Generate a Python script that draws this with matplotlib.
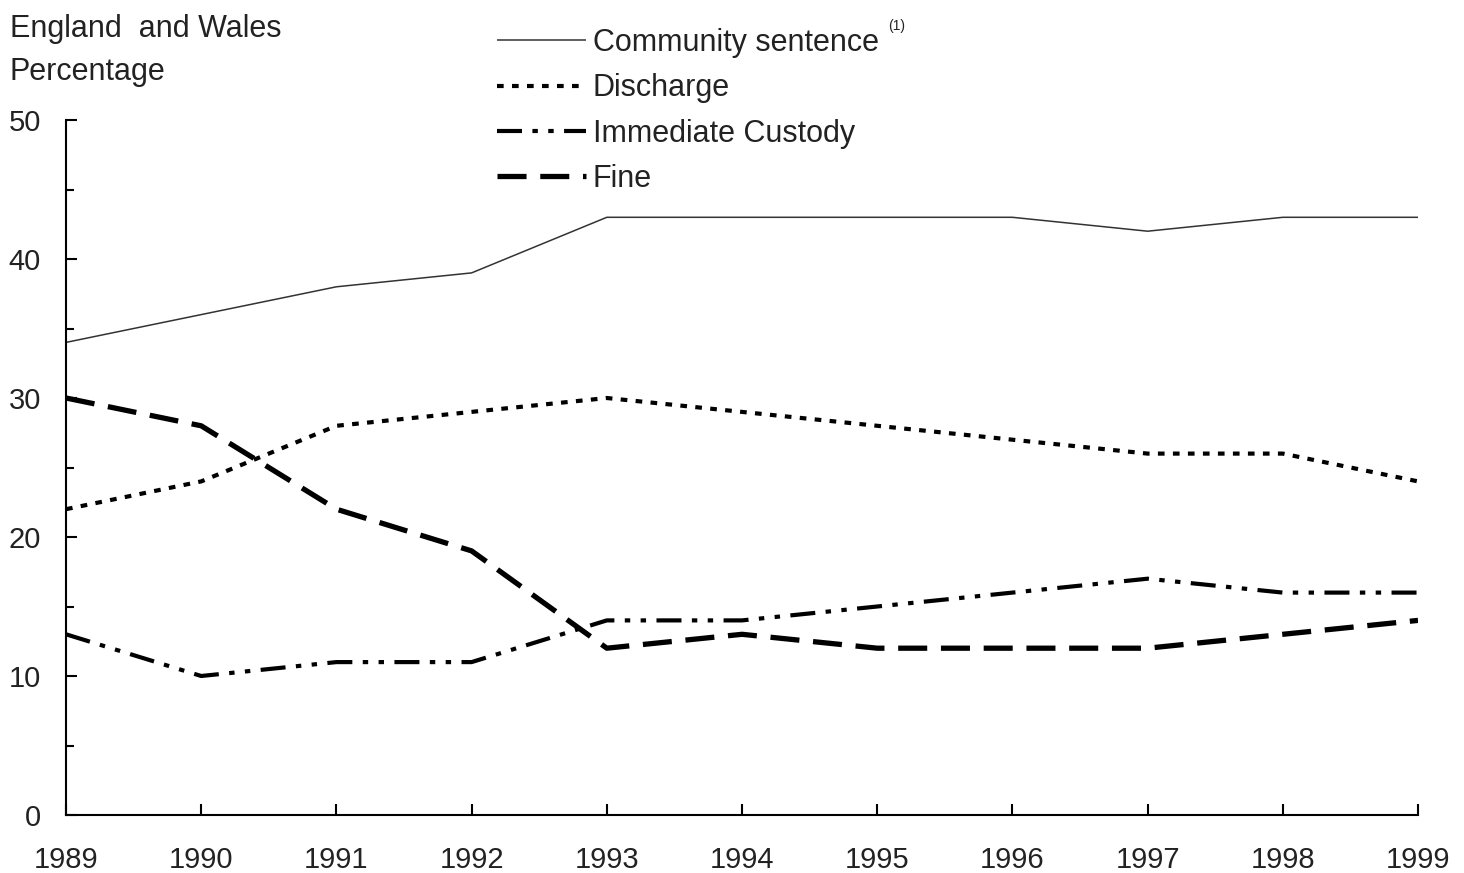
import matplotlib
matplotlib.use("Agg")
import matplotlib.pyplot as plt

plt.rcParams['font.family'] = ['Liberation Sans', 'DejaVu Sans']

years = [1989, 1990, 1991, 1992, 1993, 1994, 1995, 1996, 1997, 1998, 1999]
community = [34, 36, 38, 39, 43, 43, 43, 43, 42, 43, 43]
discharge = [22, 24, 28, 29, 30, 29, 28, 27, 26, 26, 24]
custody = [13, 10, 11, 11, 14, 14, 15, 16, 17, 16, 16]
fine = [30, 28, 22, 19, 12, 13, 12, 12, 12, 13, 14]
series_labels = ["Community sentence", "Discharge", "Immediate Custody", "Fine"]
yticks = [0, 10, 20, 30, 40, 50]

fig = plt.figure(figsize=(14.64, 8.73), dpi=100)
ax = fig.add_axes([66/1464, 1-815/873, (1418-66)/1464, (815-120)/873])

l1, = ax.plot(years, community, color='#333333', lw=1.1, solid_capstyle='butt')
l2, = ax.plot(years, discharge, color='black', lw=3.0, linestyle=(0, (1.6, 2.0)), dash_capstyle='butt')
l3, = ax.plot(years, custody, color='black', lw=3.0, linestyle=(0, (6, 2.5, 1.3, 2.5, 1.3, 2.5)), dash_capstyle='butt')
l4, = ax.plot(years, fine, color='black', lw=3.8, linestyle=(0, (5.5, 2.6)), dash_capstyle='butt')

ax.set_xlim(years[0], years[-1])
ax.set_ylim(0, 50)
ax.set_xticks(years)
ax.set_xticklabels([str(y) for y in years])
ax.set_yticks(yticks)
ax.set_yticks(range(0, 51, 5), minor=True)
for s in ['top', 'right']:
    ax.spines[s].set_visible(False)
for s in ['left', 'bottom']:
    ax.spines[s].set_linewidth(1.5)
ax.tick_params(axis='both', which='both', direction='in', width=1.5, labelsize=21, colors='black')
ax.tick_params(axis='both', which='major', length=8)
ax.tick_params(axis='y', which='minor', length=6)
ax.tick_params(axis='x', pad=22)
ax.tick_params(axis='y', pad=18)
for lab in ax.get_xticklabels() + ax.get_yticklabels():
    lab.set_color('#222222')

leg = fig.legend([l1, l2, l3, l4], series_labels, loc='upper left',
                 bbox_to_anchor=(497/1464, 1-28/873), frameon=False,
                 fontsize=22, handlelength=2.9, handletextpad=0.23,
                 labelspacing=0.5, borderaxespad=0, borderpad=0)
for t in leg.get_texts():
    t.set_color('#222222')

fig.text(888/1464, 1-30/873, "(1)", fontsize=10, color='#222222', ha='left', va='baseline')
fig.text(10/1464, 1-37/873, "England  and Wales", fontsize=22, color='#222222', ha='left', va='baseline')
fig.text(10/1464, 1-80/873, "Percentage", fontsize=22, color='#222222', ha='left', va='baseline')

fig.savefig("out.png", dpi=100)
